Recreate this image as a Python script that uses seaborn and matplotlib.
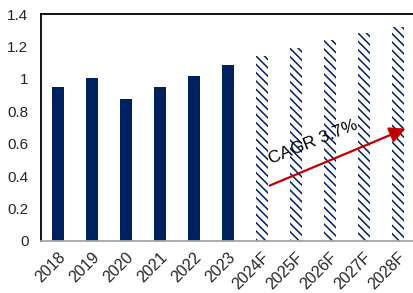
import pandas as pd
import seaborn as sns
import matplotlib.pyplot as plt

# data
years = ['2018', '2019', '2020', '2021', '2022', '2023',
         '2024F', '2025F', '2026F', '2027F', '2028F']
values = [0.95, 1.005, 0.875, 0.95, 1.015, 1.085,
          1.14, 1.19, 1.24, 1.28, 1.32]
is_forecast = [False] * 6 + [True] * 5
yticks = [0, 0.2, 0.4, 0.6, 0.8, 1.0, 1.2, 1.4]
ytick_labels = ['0', '0.2', '0.4', '0.6', '0.8', '1', '1.2', '1.4']
cagr_label = 'CAGR 3.7%'
arrow_start = (6.15, 0.335)
arrow_end = (10.3, 0.70)

NAVY = '#002060'
RED = '#C00000'

sns.set_style('white')
plt.rcParams['font.family'] = ['Liberation Sans', 'DejaVu Sans']
plt.rcParams['hatch.linewidth'] = 1.1

df = pd.DataFrame({'year': years, 'value': values})

fig = plt.figure(figsize=(4.14, 2.93), dpi=100)
ax = fig.add_axes([41 / 414, 52 / 293, 374 / 414, 227 / 293])

sns.barplot(data=df, x='year', y='value', color=NAVY, saturation=1,
            width=0.36, ax=ax)

# forecast bars: hatched, no fill
for patch, fc in zip(ax.patches, is_forecast):
    patch.set_linewidth(0)
    if fc:
        patch.set_facecolor('white')
        patch.set_edgecolor(NAVY)
        patch.set_hatch('\\\\\\\\')

ax.set_xlim(-0.5, len(years) - 0.5)
ax.set_ylim(0, 1.4)
ax.set_yticks(yticks)
ax.set_yticklabels(ytick_labels)
ax.set_xlabel('')
ax.set_ylabel('')

ax.tick_params(axis='y', length=0, pad=9, labelsize=11)
ax.tick_params(axis='x', length=0, pad=6, labelsize=11.5)
plt.setp(ax.get_xticklabels(), rotation=45, ha='right',
         rotation_mode='anchor')

for side in ['left', 'top']:
    ax.spines[side].set_color('black')
    ax.spines[side].set_linewidth(1.3)
ax.spines['bottom'].set_color('#a6a6a6')
ax.spines['bottom'].set_linewidth(1.3)
ax.spines['right'].set_visible(False)

ax.annotate('', xy=arrow_end, xytext=arrow_start,
            arrowprops=dict(arrowstyle='-|>', color=RED, lw=1.6,
                            mutation_scale=24))
ax.text(7.5, 0.61, cagr_label, rotation=22, ha='center', va='center',
        fontsize=12.5, color='black')

fig.savefig('out.png', dpi=100)
